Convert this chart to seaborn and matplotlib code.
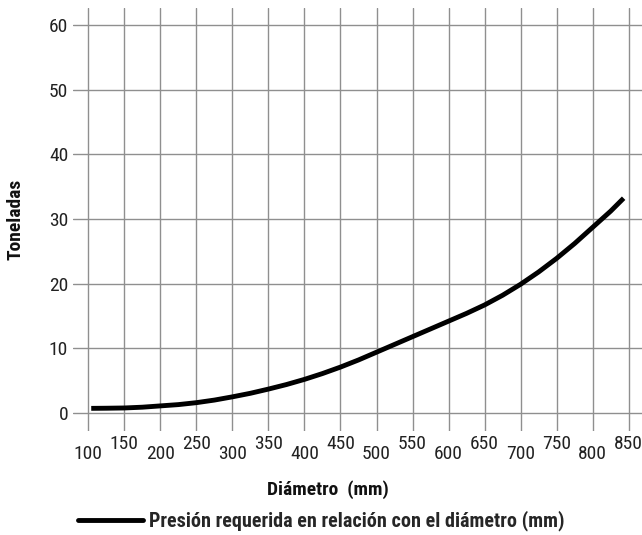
import matplotlib
matplotlib.use("Agg")
import matplotlib.pyplot as plt
from matplotlib import font_manager
from matplotlib.lines import Line2D
import seaborn as sns
import pandas as pd

# Data
diametro = [104, 125, 150, 175, 200, 225, 250, 275, 300, 325, 350, 375, 400, 425, 450,
            475, 500, 525, 550, 575, 600, 625, 650, 675, 700, 725, 750, 775, 800, 825, 843]
toneladas = [0.72, 0.74, 0.78, 0.9, 1.1, 1.3, 1.6, 2.0, 2.5, 3.05, 3.7, 4.4, 5.2, 6.1, 7.1,
             8.2, 9.4, 10.6, 11.8, 13.0, 14.2, 15.4, 16.7, 18.2, 19.9, 21.8, 23.9, 26.2, 28.7, 31.2, 33.2]
x_ticks = [100, 150, 200, 250, 300, 350, 400, 450, 500, 550, 600, 650, 700, 750, 800, 850]
y_ticks = [0, 10, 20, 30, 40, 50, 60]
serie = "Presión requerida en relación con el diámetro (mm)"

sns.set_theme(style="white")

# pick a condensed font if one is installed
fams = {}
for f in font_manager.fontManager.ttflist:
    fams.setdefault(f.name, set()).add(str(f.stretch))
chosen = None
stretch = "normal"
for cand in ["Liberation Sans Narrow", "Roboto Condensed", "Open Sans Condensed",
             "Noto Sans Condensed", "DejaVu Sans Condensed"]:
    if cand in fams:
        chosen = cand
        break
if chosen is None:
    for name in ["DejaVu Sans", "Noto Sans", "Roboto", "Open Sans"]:
        st = fams.get(name, set())
        if any(s in ("condensed", "semi-condensed", "extra-condensed", "ultra-condensed",
                     "100", "200", "300", "400") for s in st):
            chosen = name
            stretch = "condensed"
            break
if chosen is None:
    chosen = "DejaVu Sans"
plt.rcParams["font.family"] = [chosen, "DejaVu Sans"]
plt.rcParams["font.stretch"] = stretch

df = pd.DataFrame({"Diámetro": diametro, "Toneladas": toneladas, "serie": serie})

W, H = 642, 535
fig = plt.figure(figsize=(W / 100, H / 100), dpi=100)
left, right, top, bottom = 73, 642, 8, 431
ax = fig.add_axes([left / W, 1 - bottom / H, (right - left) / W, (bottom - top) / H])

sns.lineplot(data=df, x="Diámetro", y="Toneladas", hue="serie", palette=["black"],
             linewidth=3.5, ax=ax, legend=False, sort=True)
ax.lines[0].set_solid_joinstyle("round")
ax.lines[0].set_solid_capstyle("butt")

ax.set_xlim(78.7, 868.5)
ax.set_ylim(-2.78, 62.6)
ax.set_xticks(x_ticks)
ax.set_xticklabels([str(v) for v in x_ticks])
ax.set_yticks(y_ticks)
ax.set_yticklabels([str(v) for v in y_ticks])
ax.grid(True, color="#8f8f8f", linewidth=1.0)
ax.set_axisbelow(True)
for s in ax.spines.values():
    s.set_visible(False)
ax.tick_params(axis="both", length=0, labelsize=14, colors="#222222")
ax.tick_params(axis="y", pad=3.5)
for i, t in enumerate(ax.xaxis.get_major_ticks()):
    t.set_pad(10.0 if i % 2 == 0 else 3.0)
ax.set_xlabel("")
ax.set_ylabel("")

fig.text(15.5 / W, 1 - 219 / H, "Toneladas", rotation=90, ha="center", va="center",
         fontsize=14, fontweight="bold", color="#111111")
fig.text(328 / W, 1 - 490 / H, "Diámetro  (mm)", ha="center", va="center",
         fontsize=14, fontweight="bold", color="#111111")

h = [Line2D([], [], color="black", linewidth=3.5)]
fig.legend(h, [serie], loc="center left", bbox_to_anchor=(78 / W, 1 - 521 / H),
           frameon=False, borderpad=0, borderaxespad=0, handlelength=3.23,
           handletextpad=0.3,
           prop=font_manager.FontProperties(family=[chosen, "DejaVu Sans"], size=14.5,
                                            weight="bold", stretch=stretch))

fig.savefig("out.png", dpi=100)
